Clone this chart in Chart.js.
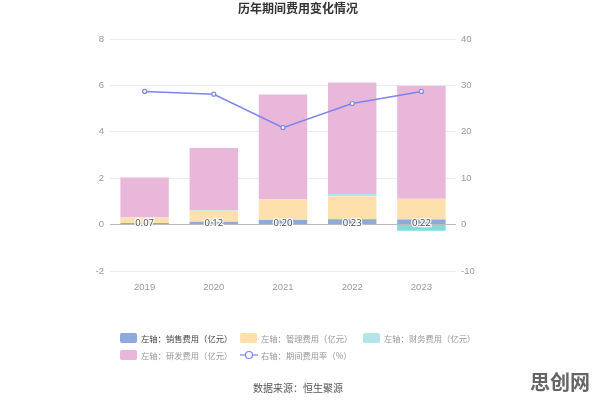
<!DOCTYPE html>
<html><head><meta charset="utf-8">
<script src="https://cdn.jsdelivr.net/npm/chart.js@4/dist/chart.umd.min.js"></script>
<style>
body{margin:0;width:596px;height:401px;background:#fff;font-family:"Noto Sans CJK SC","Noto Sans",sans-serif;position:relative;overflow:hidden}
#wrap{position:absolute;left:0;top:0;width:596px;height:401px}
.t{position:absolute;white-space:nowrap}
#title{left:0;width:596px;top:0;text-align:center;font-size:12px;font-weight:bold;color:#333;line-height:16px}
.lg{position:absolute;font-size:8.3px;color:#999;line-height:12px;white-space:nowrap}
.box{position:absolute;width:17px;height:10px;border-radius:2px}
#src{left:0;width:596px;top:380px;text-align:center;font-size:10px;color:#555}
#wm{left:530px;top:369px;font-size:20px;line-height:26px;font-weight:bold;color:#666}
</style></head><body>
<div id="wrap"><canvas id="c" width="596" height="401"></canvas></div>
<div class="t" id="title">历年期间费用变化情况</div>
<div id="legend"></div>
<div class="t" id="src">数据来源：恒生聚源</div>
<div class="t" id="wm">思创网</div>
<script>
const years = ["2019","2020","2021","2022","2023"];
const sales = [0.07, 0.12, 0.20, 0.23, 0.22];
const mgmt = [0.24, 0.48, 0.88, 0.99, 0.89];
const finance = [0.01, 0.02, 0.01, 0.10, -0.26];
const rnd = [1.71, 2.68, 4.52, 4.80, 4.88];
const rate = [28.7, 28.1, 20.9, 26.1, 28.7];
const leftTicks = [-2, 0, 2, 4, 6, 8];
const rightTicks = [-10, 0, 10, 20, 30, 40];
const names = ["左轴：销售费用（亿元）","左轴：管理费用（亿元）","左轴：财务费用（亿元）","左轴：研发费用（亿元）","右轴：期间费用率（%）"];
const colors = ["#8eaadb","#fde0ac","#b3e5e6","#e8b7d9","#7f83ee"];

const labelPlugin = {
  id:'salesLabels',
  afterDatasetsDraw(chart){
    const ctx = chart.ctx;
    const meta = chart.getDatasetMeta(0);
    const y0 = chart.scales.y.getPixelForValue(0);
    ctx.save();
    ctx.font = '9.5px "Noto Sans","Noto Sans CJK SC",sans-serif';
    ctx.textAlign='center'; ctx.textBaseline='middle';
    ctx.lineWidth=2.5; ctx.strokeStyle='rgba(255,255,255,0.9)'; ctx.fillStyle='#555';
    meta.data.forEach((bar,i)=>{
      const t = sales[i].toFixed(2);
      ctx.strokeText(t, bar.x, y0-1);
      ctx.fillText(t, bar.x, y0-1);
    });
    ctx.restore();
  }
};

const barBase = {type:'bar', yAxisID:'y', stack:'s', order:1, barPercentage:0.7, categoryPercentage:1.0, borderWidth:0};
new Chart(document.getElementById('c'), {
  data:{
    labels: years,
    datasets:[
      {...barBase, label:names[0], data:sales, backgroundColor:colors[0]},
      {...barBase, label:names[1], data:mgmt, backgroundColor:colors[1]},
      {...barBase, label:names[2], data:finance, backgroundColor:finance.map(v=>v<0?'#86d9da':colors[2])},
      {...barBase, label:names[3], data:rnd, backgroundColor:colors[3]},
      {type:'line', label:names[4], data:rate, yAxisID:'y1', order:0, borderColor:colors[4], backgroundColor:'#fff',
       borderWidth:1.5, pointRadius:2, pointBorderWidth:1.2, pointBorderColor:colors[4], pointBackgroundColor:'#fff', tension:0}
    ]
  },
  options:{
    responsive:false, animation:false,
    layout:{padding:{left:0,right:0,top:39,bottom:100}},
    plugins:{legend:{display:false}, tooltip:{enabled:false}, title:{display:false}},
    scales:{
      x:{grid:{display:false}, border:{display:false},
         ticks:{color:'#999', font:{size:9.5}, padding:3},
         afterFit(s){s.height=30;}},
      y:{position:'left', min:-2, max:8, afterBuildTicks(s){s.ticks=leftTicks.map(v=>({value:v}));},
         grid:{color:(c)=>c.tick&&c.tick.value===0?'#bbb':'#ececec', drawTicks:false, lineWidth:1},
         border:{display:false},
         ticks:{color:'#999', font:{size:9.5}, padding:6},
         afterFit(s){s.width=110;}},
      y1:{position:'right', min:-10, max:40, afterBuildTicks(s){s.ticks=rightTicks.map(v=>({value:v}));},
         grid:{display:false, drawTicks:false}, border:{display:false},
         ticks:{color:'#999', font:{size:9.5}, padding:5},
         afterFit(s){s.width=140;}}
    }
  },
  plugins:[labelPlugin]
});

// HTML legend
const pos = [[120,333],[240,333],[363,333],[120,350],[240,350]];
const lg = document.getElementById('legend');
names.forEach((n,i)=>{
  const [x,y]=pos[i];
  if(i<4){
    const b=document.createElement('div'); b.className='box';
    b.style.left=x+'px'; b.style.top=y+'px'; b.style.background=colors[i]; lg.appendChild(b);
  } else {
    const cv=document.createElement('canvas'); cv.width=18; cv.height=10;
    cv.style.position='absolute'; cv.style.left=x+'px'; cv.style.top=y+'px';
    const g=cv.getContext('2d'); g.strokeStyle=colors[4]; g.lineWidth=1.2;
    g.beginPath(); g.moveTo(0,5); g.lineTo(18,5); g.stroke();
    g.beginPath(); g.arc(9,5,3.5,0,Math.PI*2); g.fillStyle='#fff'; g.fill(); g.stroke();
    lg.appendChild(cv);
  }
  const t=document.createElement('div'); t.className='lg'; t.textContent=n;
  t.style.left=(x+21)+'px'; t.style.top=(y-1)+'px';
  if(i===0) t.style.color='#444';
  lg.appendChild(t);
});
</script>
</body></html>
